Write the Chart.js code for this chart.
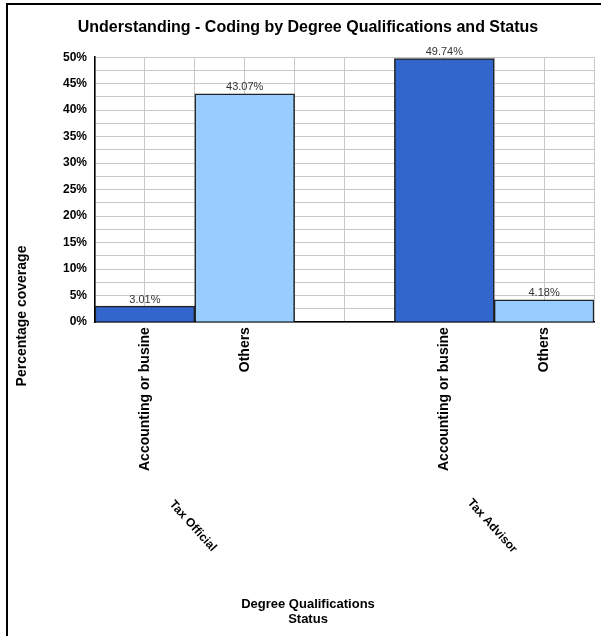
<!DOCTYPE html>
<html>
<head>
<meta charset="utf-8">
<script src="https://cdn.jsdelivr.net/npm/chart.js@4/dist/chart.umd.min.js"></script>
<style>
  html, body { margin: 0; padding: 0; background: #fff; }
  #wrap { position: relative; width: 601px; height: 636px; }
  #frame { position: absolute; left: 6px; top: 3px; right: 0; bottom: 0; border-left: 2px solid #000; border-top: 2px solid #000; }
  #myChart { position: absolute; left: 0; top: 0; }
</style>
</head>
<body>
<div id="wrap">
  <div id="frame"></div>
  <canvas id="myChart" width="601" height="636"></canvas>
</div>
<script>
(() => {
  'use strict';

  // Data
  const categories = ['Accounting or busine', 'Others', '', 'Accounting or busine', 'Others'];
  const values = [3.01, 43.07, null, 49.74, 4.18];
  const groups = ['Tax Official', 'Tax Advisor'];
  const groupCenters = [0.5, 3.5]; // between the two bars of each group
  const yMin = 0, yMax = 50, yStep = 2.5, yLabelStep = 5;

  const titleText = 'Understanding - Coding by Degree Qualifications and Status';
  const xTitle = ['Degree Qualifications', 'Status'];
  const yTitle = 'Percentage coverage';

  const FONT = '"Liberation Sans", Arial, sans-serif';
  const darkBlue = '#3366cc';
  const lightBlue = '#99ccff';
  const barColors = categories.map(c => c === 'Others' ? lightBlue : darkBlue);

  // labels above bars, group labels, y title
  const extras = {
    id: 'extras',
    afterDatasetsDraw(chart) {
      const c = chart.ctx;
      const meta = chart.getDatasetMeta(0);
      c.save();
      c.font = '11px ' + FONT;
      c.fillStyle = '#333';
      c.textAlign = 'center';
      c.textBaseline = 'bottom';
      meta.data.forEach((bar, i) => {
        if (values[i] == null) return;
        c.fillText(values[i].toFixed(2) + '%', bar.x, bar.y - 1);
      });
      c.restore();
    },
    afterDraw(chart) {
      const c = chart.ctx;
      const x = chart.scales.x;
      const area = chart.chartArea;
      c.save();
      c.fillStyle = '#000';
      c.textAlign = 'center';
      c.textBaseline = 'middle';
      c.font = 'bold 12px ' + FONT;
      groups.forEach((g, i) => {
        c.save();
        c.translate(x.getPixelForValue(groupCenters[i]) - 2, area.bottom + 204);
        c.rotate(48 * Math.PI / 180);
        c.fillText(g, 0, 0);
        c.restore();
      });
      c.font = 'bold 14px ' + FONT;
      c.save();
      c.translate(22, 316);
      c.rotate(-Math.PI / 2);
      c.fillText(yTitle, 0, 0);
      c.restore();
      c.restore();
    }
  };

  const ctx = document.getElementById('myChart');
  new Chart(ctx, {
    type: 'bar',
    data: {
      labels: categories,
      datasets: [{
        data: values,
        backgroundColor: barColors,
        borderColor: '#222',
        borderWidth: 1.5,
        categoryPercentage: 1,
        barPercentage: 1
      }]
    },
    options: {
      responsive: false,
      animation: false,
      layout: { padding: { left: 22, right: 7, top: 0, bottom: 0 } },
      plugins: {
        legend: { display: false },
        tooltip: { enabled: false },
        title: {
          display: true,
          text: titleText,
          color: '#000',
          font: { family: FONT, size: 16, weight: 'bold' },
          padding: { top: 18, bottom: 20 }
        },
        subtitle: {
          display: true,
          position: 'bottom',
          text: xTitle,
          color: '#000',
          font: { family: FONT, size: 13, weight: 'bold', lineHeight: 1.15 },
          padding: { top: 5, bottom: 9 }
        }
      },
      scales: {
        x: {
          type: 'category',
          grid: { display: false, drawTicks: false },
          border: { display: true, color: '#000', width: 1.5 },
          ticks: {
            color: '#000',
            font: { family: FONT, size: 14, weight: 'bold' },
            minRotation: 90,
            maxRotation: 90,
            autoSkip: false,
            padding: 5
          },
          afterFit(s) { s.height = 270; }
        },
        xgrid: {
          type: 'linear',
          position: 'bottom',
          min: 0,
          max: 10,
          offset: false,
          grid: { color: '#c8c8c8', lineWidth: 1, drawTicks: false, offset: false },
          border: { display: false },
          ticks: { display: false, stepSize: 1 },
          afterFit(s) { s.height = 0; }
        },
        y: {
          min: yMin,
          max: yMax,
          grid: { color: '#c8c8c8', lineWidth: 1, drawTicks: false },
          border: { display: true, color: '#000', width: 1.5 },
          ticks: {
            stepSize: yStep,
            autoSkip: false,
            padding: 8,
            color: '#000',
            font: { family: FONT, size: 12, weight: 'bold' },
            callback: v => (v % yLabelStep === 0 ? v + '%' : '')
          },
          afterFit(s) { s.width = 73; }
        }
      }
    },
    plugins: [extras]
  });
})();
</script>
</body>
</html>
